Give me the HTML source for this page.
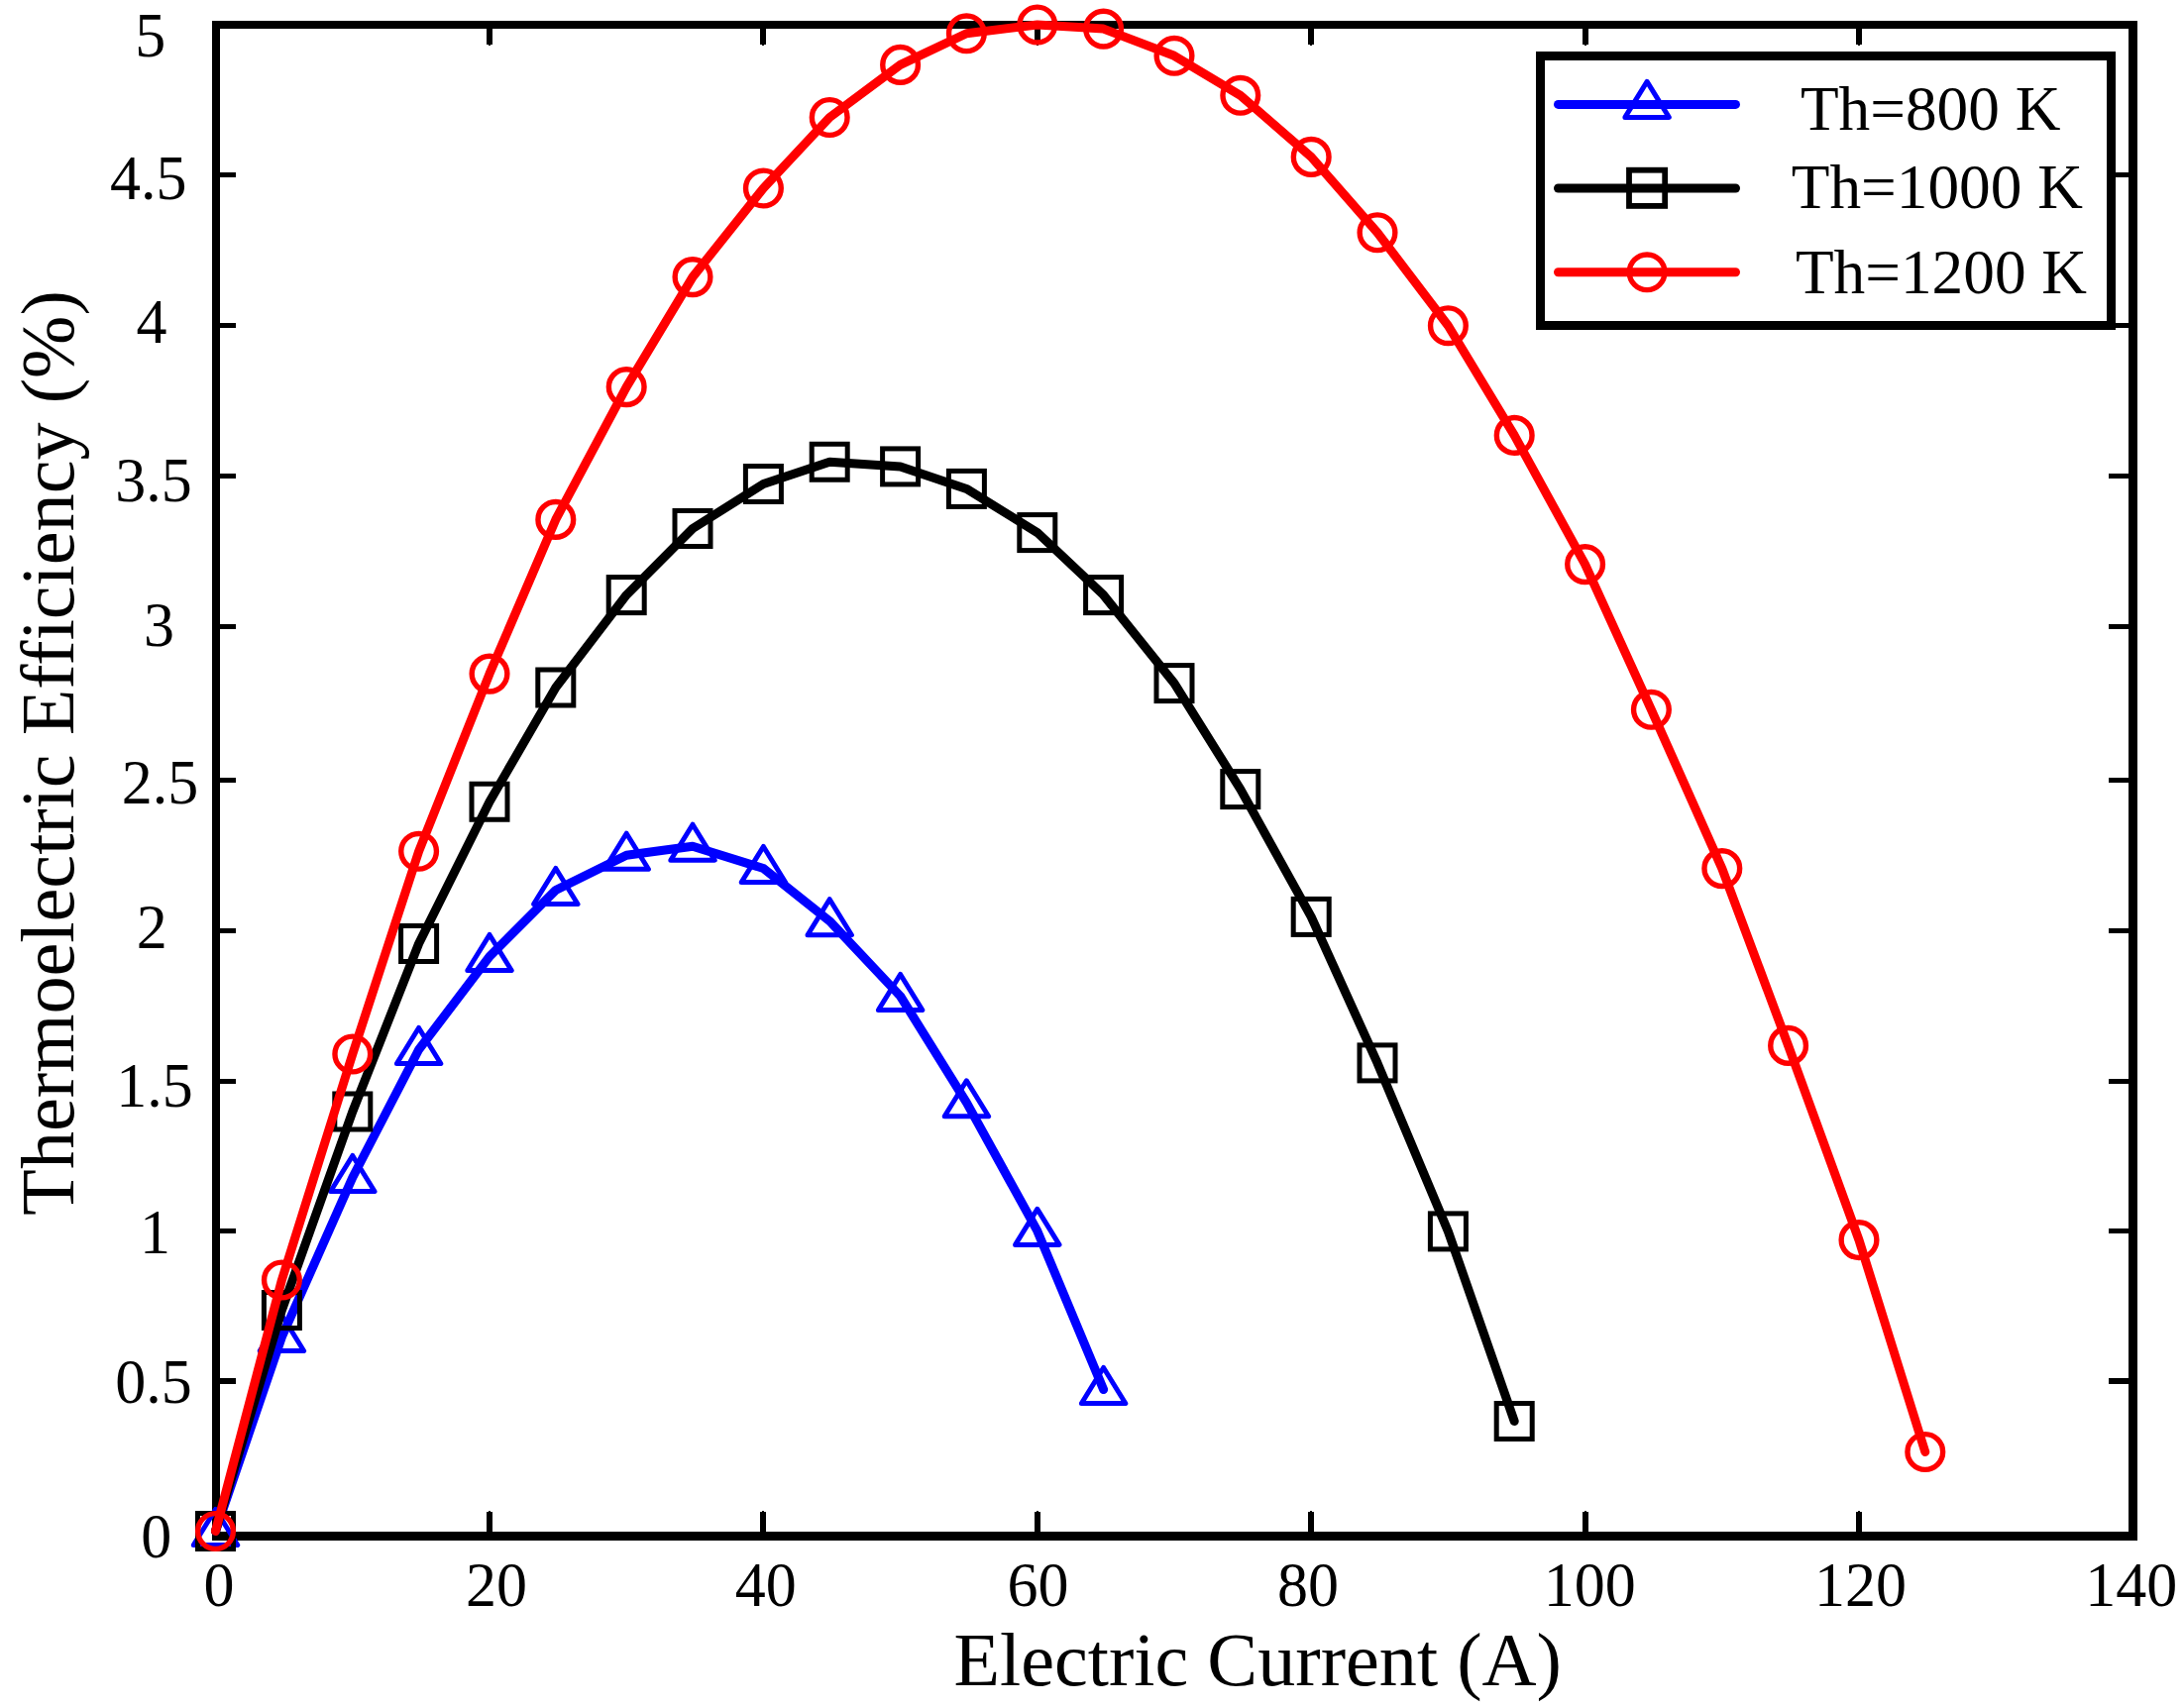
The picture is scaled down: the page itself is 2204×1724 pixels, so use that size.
<!DOCTYPE html>
<html lang="en"><head><meta charset="utf-8"><title>Thermoelectric Efficiency vs Electric Current</title>
<style>html,body{margin:0;padding:0;background:#fff;overflow:hidden}svg{display:block}text{font-family:"Liberation Serif",serif;fill:#000}</style></head>
<body>
<svg width="2204" height="1724" viewBox="0 0 2204 1724">
<rect width="2204" height="1724" fill="#fff"/>
<g fill="#000" shape-rendering="crispEdges">
<rect x="214" y="21" width="8" height="1534"/>
<rect x="2148" y="21" width="9" height="1534"/>
<rect x="214" y="21" width="1943" height="8"/>
<rect x="214" y="1546" width="1943" height="9"/>
<rect x="491" y="1526" width="6" height="21"/>
<rect x="493" y="1525" width="2" height="2"/>
<rect x="491" y="28" width="6" height="17"/>
<rect x="493" y="45" width="2" height="1"/>
<rect x="767" y="1526" width="6" height="21"/>
<rect x="769" y="1525" width="2" height="2"/>
<rect x="767" y="28" width="6" height="17"/>
<rect x="769" y="45" width="2" height="1"/>
<rect x="1044" y="1526" width="6" height="21"/>
<rect x="1046" y="1525" width="2" height="2"/>
<rect x="1044" y="28" width="6" height="17"/>
<rect x="1046" y="45" width="2" height="1"/>
<rect x="1320" y="1526" width="6" height="21"/>
<rect x="1322" y="1525" width="2" height="2"/>
<rect x="1320" y="28" width="6" height="17"/>
<rect x="1322" y="45" width="2" height="1"/>
<rect x="1597" y="1526" width="6" height="21"/>
<rect x="1599" y="1525" width="2" height="2"/>
<rect x="1597" y="28" width="6" height="17"/>
<rect x="1599" y="45" width="2" height="1"/>
<rect x="1873" y="1526" width="6" height="21"/>
<rect x="1875" y="1525" width="2" height="2"/>
<rect x="1873" y="28" width="6" height="17"/>
<rect x="1875" y="45" width="2" height="1"/>
<rect x="221" y="174" width="17" height="5"/>
<rect x="2128" y="174" width="21" height="5"/>
<rect x="221" y="326" width="17" height="5"/>
<rect x="2128" y="326" width="21" height="5"/>
<rect x="221" y="478" width="17" height="5"/>
<rect x="2128" y="478" width="21" height="5"/>
<rect x="221" y="630" width="17" height="5"/>
<rect x="2128" y="630" width="21" height="5"/>
<rect x="221" y="785" width="17" height="5"/>
<rect x="2128" y="785" width="21" height="5"/>
<rect x="221" y="937" width="17" height="5"/>
<rect x="2128" y="937" width="21" height="5"/>
<rect x="221" y="1089" width="17" height="5"/>
<rect x="2128" y="1089" width="21" height="5"/>
<rect x="221" y="1240" width="17" height="5"/>
<rect x="2128" y="1240" width="21" height="5"/>
<rect x="221" y="1391" width="17" height="6"/>
<rect x="2128" y="1391" width="21" height="6"/>
</g>
<polyline fill="none" stroke="#0000ff" stroke-width="9" stroke-linejoin="round" stroke-linecap="round" points="217.50,1545.50 284.40,1349.50 355.80,1188.50 422.60,1059.50 494.00,965.50 560.80,898.50 632.20,863.25 699.00,854.20 770.40,876.50 837.20,929.70 908.60,1005.50 975.40,1112.80 1046.80,1242.40 1113.60,1402.50"/>
<g fill="none" stroke="#0000ff">
<polygon stroke-width="5" stroke-linejoin="round" points="217.50,1523.50 239.70,1559.50 195.30,1559.50"/>
<polygon stroke-width="5" stroke-linejoin="round" points="284.40,1327.50 306.60,1363.50 262.20,1363.50"/>
<polygon stroke-width="5" stroke-linejoin="round" points="355.80,1166.50 378.00,1202.50 333.60,1202.50"/>
<polygon stroke-width="5" stroke-linejoin="round" points="422.60,1037.50 444.80,1073.50 400.40,1073.50"/>
<polygon stroke-width="5" stroke-linejoin="round" points="494.00,943.50 516.20,979.50 471.80,979.50"/>
<polygon stroke-width="5" stroke-linejoin="round" points="560.80,876.50 583.00,912.50 538.60,912.50"/>
<polygon stroke-width="5" stroke-linejoin="round" points="632.20,841.25 654.40,877.25 610.00,877.25"/>
<polygon stroke-width="5" stroke-linejoin="round" points="699.00,832.20 721.20,868.20 676.80,868.20"/>
<polygon stroke-width="5" stroke-linejoin="round" points="770.40,854.50 792.60,890.50 748.20,890.50"/>
<polygon stroke-width="5" stroke-linejoin="round" points="837.20,907.70 859.40,943.70 815.00,943.70"/>
<polygon stroke-width="5" stroke-linejoin="round" points="908.60,983.50 930.80,1019.50 886.40,1019.50"/>
<polygon stroke-width="5" stroke-linejoin="round" points="975.40,1090.80 997.60,1126.80 953.20,1126.80"/>
<polygon stroke-width="5" stroke-linejoin="round" points="1046.80,1220.40 1069.00,1256.40 1024.60,1256.40"/>
<polygon stroke-width="5" stroke-linejoin="round" points="1113.60,1380.50 1135.80,1416.50 1091.40,1416.50"/>
</g>
<polyline fill="none" stroke="#000000" stroke-width="9" stroke-linejoin="round" stroke-linecap="round" points="217.50,1545.50 284.40,1322.50 355.80,1122.00 422.60,952.50 494.00,809.25 560.80,694.00 632.20,600.60 699.00,533.50 770.40,488.50 837.20,466.25 908.60,470.90 975.40,493.40 1046.80,537.60 1113.60,600.60 1185.00,689.60 1251.80,796.60 1323.20,925.40 1390.00,1072.90 1461.40,1242.90 1528.20,1434.50"/>
<g fill="none" stroke="#000000">
<rect stroke-width="5" x="199.50" y="1527.50" width="36" height="36"/>
<rect stroke-width="5" x="266.40" y="1304.50" width="36" height="36"/>
<rect stroke-width="5" x="337.80" y="1104.00" width="36" height="36"/>
<rect stroke-width="5" x="404.60" y="934.50" width="36" height="36"/>
<rect stroke-width="5" x="476.00" y="791.25" width="36" height="36"/>
<rect stroke-width="5" x="542.80" y="676.00" width="36" height="36"/>
<rect stroke-width="5" x="614.20" y="582.60" width="36" height="36"/>
<rect stroke-width="5" x="681.00" y="515.50" width="36" height="36"/>
<rect stroke-width="5" x="752.40" y="470.50" width="36" height="36"/>
<rect stroke-width="5" x="819.20" y="448.25" width="36" height="36"/>
<rect stroke-width="5" x="890.60" y="452.90" width="36" height="36"/>
<rect stroke-width="5" x="957.40" y="475.40" width="36" height="36"/>
<rect stroke-width="5" x="1028.80" y="519.60" width="36" height="36"/>
<rect stroke-width="5" x="1095.60" y="582.60" width="36" height="36"/>
<rect stroke-width="5" x="1167.00" y="671.60" width="36" height="36"/>
<rect stroke-width="5" x="1233.80" y="778.60" width="36" height="36"/>
<rect stroke-width="5" x="1305.20" y="907.40" width="36" height="36"/>
<rect stroke-width="5" x="1372.00" y="1054.90" width="36" height="36"/>
<rect stroke-width="5" x="1443.40" y="1224.90" width="36" height="36"/>
<rect stroke-width="5" x="1510.20" y="1416.50" width="36" height="36"/>
</g>
<polyline fill="none" stroke="#ff0000" stroke-width="9" stroke-linejoin="round" stroke-linecap="round" points="217.50,1545.50 284.40,1292.00 355.80,1064.00 422.60,859.30 494.00,680.10 560.80,524.40 632.20,390.60 699.00,279.60 770.40,190.00 837.20,118.50 908.60,65.40 975.40,33.80 1046.80,25.00 1113.60,29.10 1185.00,56.30 1251.80,96.30 1323.20,158.40 1390.00,234.75 1461.40,328.70 1528.20,439.40 1599.60,569.60 1666.40,716.30 1737.80,876.60 1804.60,1055.40 1876.00,1251.60 1942.80,1465.50"/>
<g fill="none" stroke="#ff0000">
<circle stroke-width="5.4" cx="217.50" cy="1545.50" r="17.85"/>
<circle stroke-width="5.4" cx="284.40" cy="1292.00" r="17.85"/>
<circle stroke-width="5.4" cx="355.80" cy="1064.00" r="17.85"/>
<circle stroke-width="5.4" cx="422.60" cy="859.30" r="17.85"/>
<circle stroke-width="5.4" cx="494.00" cy="680.10" r="17.85"/>
<circle stroke-width="5.4" cx="560.80" cy="524.40" r="17.85"/>
<circle stroke-width="5.4" cx="632.20" cy="390.60" r="17.85"/>
<circle stroke-width="5.4" cx="699.00" cy="279.60" r="17.85"/>
<circle stroke-width="5.4" cx="770.40" cy="190.00" r="17.85"/>
<circle stroke-width="5.4" cx="837.20" cy="118.50" r="17.85"/>
<circle stroke-width="5.4" cx="908.60" cy="65.40" r="17.85"/>
<circle stroke-width="5.4" cx="975.40" cy="33.80" r="17.85"/>
<circle stroke-width="5.4" cx="1046.80" cy="25.00" r="17.85"/>
<circle stroke-width="5.4" cx="1113.60" cy="29.10" r="17.85"/>
<circle stroke-width="5.4" cx="1185.00" cy="56.30" r="17.85"/>
<circle stroke-width="5.4" cx="1251.80" cy="96.30" r="17.85"/>
<circle stroke-width="5.4" cx="1323.20" cy="158.40" r="17.85"/>
<circle stroke-width="5.4" cx="1390.00" cy="234.75" r="17.85"/>
<circle stroke-width="5.4" cx="1461.40" cy="328.70" r="17.85"/>
<circle stroke-width="5.4" cx="1528.20" cy="439.40" r="17.85"/>
<circle stroke-width="5.4" cx="1599.60" cy="569.60" r="17.85"/>
<circle stroke-width="5.4" cx="1666.40" cy="716.30" r="17.85"/>
<circle stroke-width="5.4" cx="1737.80" cy="876.60" r="17.85"/>
<circle stroke-width="5.4" cx="1804.60" cy="1055.40" r="17.85"/>
<circle stroke-width="5.4" cx="1876.00" cy="1251.60" r="17.85"/>
<circle stroke-width="5.4" cx="1942.80" cy="1465.50" r="17.85"/>
</g>
<rect x="1554.5" y="56.5" width="576" height="272" fill="#fff" stroke="#000" stroke-width="9" shape-rendering="crispEdges"/>
<line x1="1572.5" x2="1751.5" y1="105.4" y2="105.4" stroke="#0000ff" stroke-width="9" stroke-linecap="round"/>
<g fill="none" stroke="#0000ff"><polygon stroke-width="5" stroke-linejoin="round" points="1662.10,82.40 1684.30,118.40 1639.90,118.40"/>
</g>
<line x1="1572.5" x2="1751.5" y1="190" y2="190" stroke="#000000" stroke-width="9" stroke-linecap="round"/>
<g fill="none" stroke="#000000"><rect stroke-width="5.8" x="1644.00" y="171.70" width="36.2" height="36.2"/>
</g>
<line x1="1572.5" x2="1751.5" y1="274.8" y2="274.8" stroke="#ff0000" stroke-width="9" stroke-linecap="round"/>
<g fill="none" stroke="#ff0000"><circle stroke-width="5.4" cx="1662.10" cy="274.80" r="17.85"/>
</g>
<text transform="translate(151.70 56.50) scale(1 1.03)" font-size="62" text-anchor="middle">5</text>
<text transform="translate(149.80 201.00) scale(1 1.03)" font-size="62" text-anchor="middle">4.5</text>
<text transform="translate(153.10 345.90) scale(1 1.03)" font-size="62" text-anchor="middle">4</text>
<text transform="translate(155.00 505.80) scale(1 1.03)" font-size="62" text-anchor="middle">3.5</text>
<text transform="translate(160.40 651.80) scale(1 1.03)" font-size="62" text-anchor="middle">3</text>
<text transform="translate(161.60 811.00) scale(1 1.03)" font-size="62" text-anchor="middle">2.5</text>
<text transform="translate(153.30 956.80) scale(1 1.03)" font-size="62" text-anchor="middle">2</text>
<text transform="translate(155.90 1116.60) scale(1 1.03)" font-size="62" text-anchor="middle">1.5</text>
<text transform="translate(156.40 1264.70) scale(1 1.03)" font-size="62" text-anchor="middle">1</text>
<text transform="translate(155.10 1416.20) scale(1 1.03)" font-size="62" text-anchor="middle">0.5</text>
<text transform="translate(157.80 1572.10) scale(1 1.03)" font-size="62" text-anchor="middle">0</text>
<text transform="translate(220.90 1621.30) scale(1 1.03)" font-size="62" text-anchor="middle">0</text>
<text transform="translate(501.10 1621.30) scale(1 1.03)" font-size="62" text-anchor="middle">20</text>
<text transform="translate(772.70 1621.30) scale(1 1.03)" font-size="62" text-anchor="middle">40</text>
<text transform="translate(1047.50 1621.30) scale(1 1.03)" font-size="62" text-anchor="middle">60</text>
<text transform="translate(1320.00 1621.30) scale(1 1.03)" font-size="62" text-anchor="middle">80</text>
<text transform="translate(1604.30 1621.30) scale(1 1.03)" font-size="62" text-anchor="middle">100</text>
<text transform="translate(1877.50 1621.30) scale(1 1.03)" font-size="62" text-anchor="middle">120</text>
<text transform="translate(2150.80 1621.30) scale(1 1.03)" font-size="62" text-anchor="middle">140</text>
<text x="1269.20" y="1701.00" font-size="76.2" text-anchor="middle">Electric Current (A)</text>
<text transform="translate(74.10,759.90) rotate(-90)" font-size="76.2" text-anchor="middle">Thermoelectric Efficiency (%)</text>
<text x="1948.20" y="130.90" font-size="63.3" text-anchor="middle">Th=800 K</text>
<text x="1954.80" y="209.70" font-size="63.3" text-anchor="middle">Th=1000 K</text>
<text x="1959.00" y="296.00" font-size="63.3" text-anchor="middle">Th=1200 K</text>
</svg>
</body></html>
